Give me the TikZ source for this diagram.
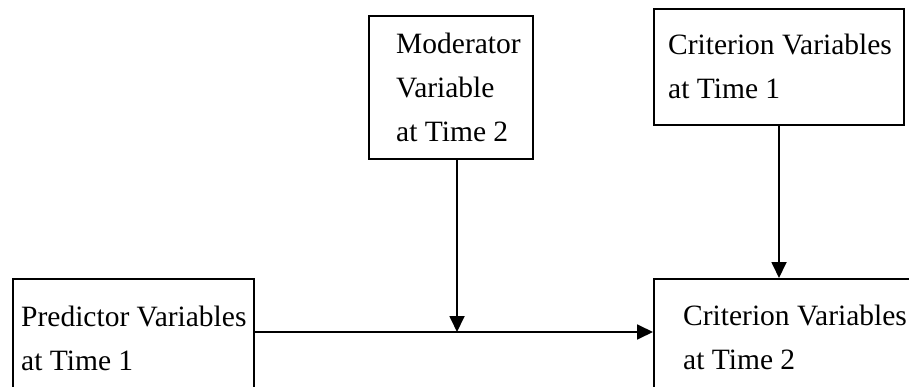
\documentclass[tikz,border=0pt]{standalone}
\usepackage{fontspec}
\setmainfont{Liberation Serif}
\usetikzlibrary{arrows.meta}
\begin{document}
\begin{tikzpicture}[x=1pt,y=-1pt,
  box/.style={draw,line width=2pt,rectangle,inner sep=0pt,anchor=north west},
  label/.style={anchor=base west,inner sep=0pt,align=left,
    font=\fontsize{29.5}{44}\selectfont},
  arrow/.style={line width=1.8pt,-{Triangle[length=16pt,width=15pt]}}]
\useasboundingbox[clip] (0,0) rectangle (909,387);
% boxes
\node[box,minimum width=164pt,minimum height=143pt] (mod) at (368,15) {};
\node[box,minimum width=250pt,minimum height=116pt] (ct1) at (653,8) {};
\node[box,minimum width=241pt,minimum height=130pt] (pred) at (12,278) {};
\node[box,minimum width=280pt,minimum height=130pt] (ct2) at (653,278) {};
% texts (anchored at the baseline of the last line)
\node[label] (modtxt) at (396,142) {Moderator\\Variable\\at Time 2};
\node[label] (ct1txt) at (668,99) {Criterion Variables\\at Time 1};
\node[label] (predtxt) at (21,370) {Predictor Variables\\at Time 1};
\node[label] (ct2txt) at (683,369) {Criterion Variables\\at Time 2};
% connectors
\coordinate (j) at (457,332);
\draw[arrow] (pred.east |- j) -- (ct2.west |- j);
\draw[arrow] (mod.south -| j) -- (j);
\draw[arrow] (ct1.south) -- (ct1.south |- ct2.north);
\end{tikzpicture}
\end{document}
